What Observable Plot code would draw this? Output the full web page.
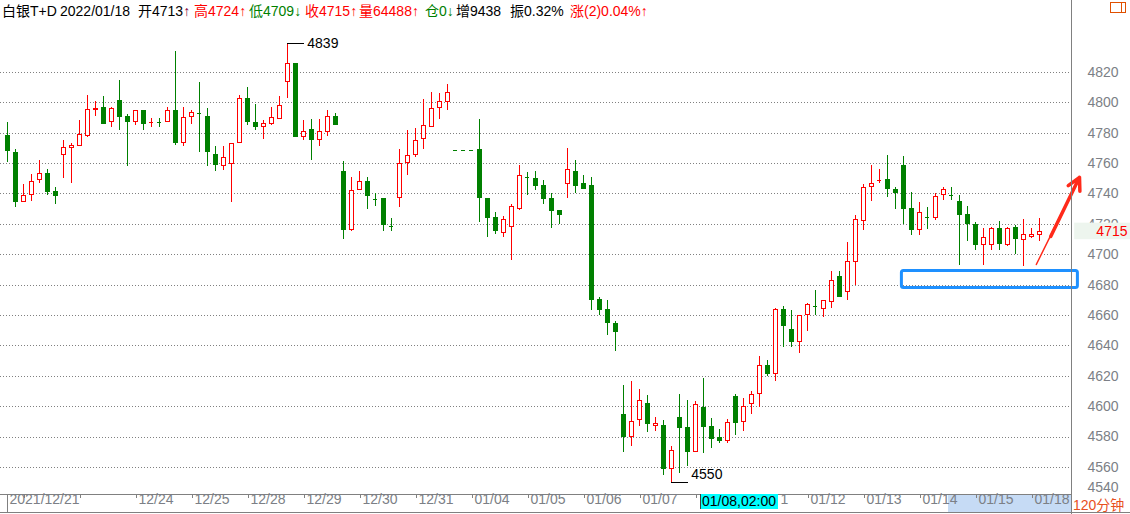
<!DOCTYPE html>
<html>
<head>
<meta charset="utf-8">
<script src="https://cdn.jsdelivr.net/npm/d3@7"></script>
<script src="https://cdn.jsdelivr.net/npm/@observablehq/plot@0.6"></script>
<style>
  body { margin: 0; background: #fff; }
  #wrap { position: relative; width: 1130px; height: 514px; overflow: hidden;
          font-family: "Liberation Sans", Arial, "Noto Sans CJK SC", sans-serif; }
  #chart { position: absolute; left: 0; top: 0; }
  .h { position: absolute; top: 3px; font-size: 14px; line-height: 16px; white-space: pre; }
  .blk { color: #000; } .red { color: #ff0000; } .grn { color: #008000; } .mar { color: #800040; }
  #cursor { position: absolute; left: 700px; top: 494px; height: 15px; background: #00ffff;
            border-left: 1px solid #404040; font-size: 14px; line-height: 15px; color: #000; padding-left: 1px; box-sizing: border-box; width: 78px; }
  #period { position: absolute; left: 1073px; top: 497px; font-size: 14px; line-height: 16px; color: #e8501e; }
  #icon { position: absolute; left: 1110px; top: 2px; width: 14px; height: 9px; border: 1px solid #e05000; }
  #icon:after { content: ""; position: absolute; left: 10px; top: 0; width: 1px; height: 9px; background: #e05000; }
</style>
</head>
<body>
<div id="wrap">
  <div id="chart"></div>
  <div class="h blk" style="left:2px">白银T+D</div>
  <div class="h blk" style="left:60px">2022/01/18</div>
  <div class="h" style="left:138px"><span class="blk">开4713</span><span class="mar">↑</span></div>
  <div class="h red" style="left:194px">高4724↑</div>
  <div class="h grn" style="left:249px">低4709↓</div>
  <div class="h red" style="left:305px">收4715↑</div>
  <div class="h red" style="left:359px">量64488↑</div>
  <div class="h grn" style="left:425px">仓0↓</div>
  <div class="h blk" style="left:456px">增9438</div>
  <div class="h blk" style="left:510px">振0.32%</div>
  <div class="h red" style="left:570px">涨(2)0.04%↑</div>
  <div id="cursor">01/08,02:00</div>
  <div id="period">120分钟</div>
  <div id="icon"></div>
</div>
<script>
// ---- data (120-minute candles, index 0 = first bar) ----
const opens = [
  4778, 4767, 4735, 4739.4, 4749, 4753, 4741, 4766, 4770.4, 4771.5,
  4778, 4795, 4796.4, 4787.4, 4801, 4791, 4787.4, 4794.4, 4787, 4787,
  4787.4, 4794.4, 4773.5, 4790.7, 4793, 4791, 4766, 4758.3, 4760, 4773.5,
  4802.4, 4787, 4784, 4786, 4789.4, 4814, 4825.5, 4777.5, 4782, 4775.7,
  4780.6, 4791, 4754.8, 4716.4, 4742.8, 4748, 4736.4, 4736.4, 4719, 4737.5,
  4760.5, 4765.8, 4776.3, 4784.2, 4796.7, 4800.7, 4769, 4769, 4769, 4769,
  4737, 4724, 4714.5, 4718, 4730, 4750.7, 4750.2, 4745, 4737, 4729,
  4746.5, 4754.8, 4746.3, 4745, 4670, 4663.5, 4654.3, 4594.4, 4579.7, 4590.9,
  4602, 4587.2, 4587.2, 4558.7, 4592.5, 4586.2, 4570.3, 4599, 4586.6, 4579.3,
  4577.5, 4606.3, 4589.6, 4601.4, 4608, 4627, 4621.8, 4663.3, 4650.3, 4642.7,
  4660, 4666, 4664.6, 4668.8, 4685.4, 4675.6, 4695.3, 4722.3, 4744.6, 4748.8,
  4749, 4742.9, 4758.2, 4730, 4716.6, 4724.7, 4724.3, 4739.6, 4739.2, 4734.6,
  4726, 4719.4, 4706.5, 4706.5, 4717.2, 4706.5, 4717.9, 4710, 4711.8, 4713
];
const highs = [
  4787, 4769, 4746, 4753, 4762, 4756, 4744.5, 4775, 4773, 4788.5,
  4805, 4801, 4804, 4797, 4815, 4792.5, 4795, 4795, 4790, 4790,
  4797, 4834, 4797, 4795, 4813.4, 4796, 4771.3, 4771, 4773.5, 4805,
  4810, 4799, 4788.5, 4797, 4804.4, 4839, 4826, 4788.5, 4789, 4789,
  4795, 4793, 4761.4, 4751, 4754.8, 4751, 4740, 4736.4, 4723.9, 4769.3,
  4781.8, 4783, 4802, 4806.6, 4806, 4812, 4769, 4769, 4769, 4789,
  4737, 4727.8, 4725, 4733, 4758.8, 4754, 4754.8, 4749, 4740, 4729,
  4769.7, 4762, 4752, 4751, 4671.6, 4670, 4656, 4614.2, 4616.4, 4611.5,
  4607.6, 4592.7, 4591, 4574, 4608.2, 4604.3, 4603.2, 4618.3, 4592.3, 4585,
  4591.2, 4608, 4605.5, 4610, 4633.2, 4630.6, 4664.4, 4666, 4663.3, 4660,
  4668, 4676.3, 4669.4, 4689.2, 4688.7, 4708.2, 4725.8, 4746, 4758.9, 4756.3,
  4765.5, 4744.6, 4764.4, 4741, 4734.6, 4731.3, 4740.3, 4744.4, 4744.4, 4739.2,
  4732, 4721.4, 4717.2, 4717.9, 4722, 4717.9, 4719.4, 4723.4, 4717.2, 4724
];
const lows = [
  4761, 4731, 4734.5, 4735, 4747, 4739, 4733, 4750, 4747, 4771,
  4777.5, 4791, 4786, 4784, 4781.5, 4758, 4785, 4782, 4783.5, 4784,
  4787, 4772, 4771, 4786, 4767.6, 4758, 4755, 4755.5, 4734.5, 4773,
  4785, 4782, 4776, 4785, 4789, 4803, 4777, 4775.3, 4762, 4771.5,
  4778, 4785, 4710.3, 4715.6, 4742.8, 4730, 4732, 4715.6, 4715.6, 4731,
  4752.4, 4764, 4769.5, 4784, 4789, 4795, 4769, 4769, 4769, 4721.5,
  4711.6, 4713.6, 4711.6, 4696.3, 4729, 4739, 4742.3, 4733, 4717.5, 4720,
  4737, 4740, 4743, 4663.5, 4659.8, 4646.6, 4636.5, 4570, 4574, 4586.8,
  4582.8, 4583.5, 4554.5, 4550, 4556, 4560.3, 4570, 4569.4, 4572.4, 4575.8,
  4575.4, 4581.3, 4583.5, 4595, 4599.3, 4620, 4616.4, 4638.7, 4639, 4635.2,
  4649.3, 4659.8, 4658.5, 4664.4, 4671.6, 4669.6, 4679.7, 4716, 4735.2, 4746.8,
  4737.4, 4730, 4719.6, 4712.4, 4712.4, 4716.6, 4722.3, 4735.4, 4735.4, 4693.1,
  4708.5, 4702.5, 4693.1, 4702.5, 4703, 4705.2, 4700.1, 4692.5, 4710.4, 4709
];
const closes = [
  4768, 4735, 4739, 4748, 4753, 4741, 4738.5, 4770, 4771.3, 4779,
  4795, 4796, 4786, 4796, 4791, 4787.4, 4794.4, 4786, 4787.1, 4786.9,
  4794.4, 4773.5, 4790, 4793, 4792.9, 4767.6, 4758.8, 4764, 4773, 4802.4,
  4787.4, 4784, 4786, 4790.3, 4798, 4825.5, 4777.5, 4781, 4775.7, 4781,
  4791, 4785.4, 4716.4, 4742, 4748, 4738.6, 4736.3, 4719.5, 4718.9, 4760,
  4765, 4775, 4784.9, 4796, 4800.7, 4806.6, 4768.9, 4768.9, 4768.9, 4737.3,
  4724, 4715.6, 4723, 4731.6, 4752, 4750.6, 4745, 4736.6, 4729, 4726,
  4756, 4745, 4743, 4670, 4663.5, 4655.2, 4649.3, 4579.7, 4590, 4603.4,
  4588.7, 4588.5, 4558.7, 4570.6, 4585.8, 4570.3, 4600.8, 4586.8, 4578.9, 4577.5,
  4589, 4589.4, 4600, 4607.4, 4627, 4621.8, 4663.3, 4653.2, 4642.7, 4659.8,
  4667.2, 4665.9, 4669.4, 4683, 4672.3, 4694.9, 4723.2, 4744.2, 4746.8, 4748.9,
  4743.1, 4740.7, 4730, 4716.1, 4727.8, 4724.6, 4738.3, 4742.5, 4739.1, 4726.2,
  4720.5, 4706.5, 4711.3, 4717.2, 4707.1, 4717.2, 4710.4, 4713.3, 4713.3, 4715
];
// x-axis: bar index where each trading day starts, and its visible label ("" = tick only;
// 01/08 and most of 01/11 are hidden under the cursor box in the reference)
const dayStarts = [2, 9, 16, 23, 30, 37, 44, 51, 58, 65, 72, 79, 86, 93, 100, 107, 114, 121, 128];
const dayLabels = ["", "", "12/24", "12/25", "12/28", "12/29", "12/30", "12/31", "01/04", "01/05",
                   "01/06", "01/07", "", "", "01/12", "01/13", "01/14", "01/15", "01/18"];
const partialLabel = {i: 93, text: "1"};   // visible tail of "01/11"
const firstLabel = "2021/12/21";
const priceTicks = [4560, 4580, 4600, 4620, 4640, 4660, 4680, 4700, 4720, 4740, 4760, 4780, 4800, 4820];
const bottomTick = 4540;

// ---- layout ----
const RED = "#ff0000", GREEN = "#008000", GRAY = "#808080", AXC = "#7c7f86";
const Y_TOP = 4867.4, Y_BOT = 4542.8, PLOT_H = 493;
const yVal = px => Y_TOP - px * (Y_TOP - Y_BOT) / PLOT_H;   // pixel row -> price (for chrome outside frame)

const bars = opens.map((o, i) => ({i, o, h: highs[i], l: lows[i], c: closes[i]}));
const isUp = d => d.c > d.o;
const col = d => isUp(d) ? RED : GREEN;
const flat = bars.filter(d => Math.abs(d.c - d.o) < 0.5);
const hiBar = bars.reduce((a, b) => b.h > a.h ? b : a);
const loBar = bars.reduce((a, b) => b.l < a.l ? b : a);
const last = bars[bars.length - 1];
const ticks = dayStarts.map((i, k) => ({i, label: dayLabels[k]}));
const crisp = {shapeRendering: "crispEdges"};

const chart = Plot.plot({
  width: 1130, height: 514,
  marginLeft: 0, marginRight: 59, marginTop: 0, marginBottom: 21,
  x: {type: "linear", domain: [-0.875, 133], axis: null},
  y: {type: "linear", domain: [Y_BOT, Y_TOP], axis: null},
  style: {fontFamily: "'Liberation Sans', Arial, sans-serif", fontSize: "14px", background: "transparent", overflow: "visible"},
  marks: [
    // selection highlight in the time strip
    Plot.rect([0], {x1: 117.6, x2: 133, y1: yVal(494), y2: yVal(512.5), fill: "#c6dbf5", ...crisp}),
    // dotted price grid
    Plot.ruleY(priceTicks, {stroke: GRAY, strokeDasharray: "1,2", ...crisp}),
    // candles
    Plot.ruleX(bars, {x: "i", y1: "l", y2: "h", stroke: col, ...crisp}),
    Plot.rect(bars.filter(d => Math.abs(d.c - d.o) >= 0.5),
      {x1: d => d.i - 0.25, x2: d => d.i + 0.25, y1: "o", y2: "c",
       fill: d => isUp(d) ? "white" : GREEN, stroke: col, ...crisp}),
    Plot.ruleY(flat, {y: "c", x1: d => d.i - 0.3, x2: d => d.i + 0.3, stroke: col, ...crisp}),
    // max / min markers
    Plot.ruleY([hiBar], {y: "h", x1: "i", x2: d => d.i + 2.1, stroke: "black", ...crisp}),
    Plot.text([hiBar], {x: d => d.i + 2.1, y: "h", text: d => String(d.h), textAnchor: "start", dx: 3, fill: "black"}),
    Plot.ruleY([loBar], {y: "l", x1: "i", x2: d => d.i + 2.1, stroke: "black", ...crisp}),
    Plot.text([loBar], {x: d => d.i + 2.1, y: "l", text: d => String(d.l), textAnchor: "start", dx: 3, dy: -8, fill: "black"}),
    // hand-drawn annotations
    Plot.rect([0], {x1: 111.8, x2: 133.8, y1: 4689.3, y2: 4678.1, stroke: "#1e90ff", strokeWidth: 3, fill: "none", rx: 2}),
    Plot.arrow([0], {x1: 128.6, y1: 4693.6, x2: 134, y2: 4751, stroke: "#ff2a1a", strokeWidth: 1.5, headLength: 0}),
    Plot.arrow([0], {x1: 130.4, y1: 4712, x2: 134, y2: 4751, stroke: "#ff2a1a", strokeWidth: 3.5, headLength: 6, headAngle: 55}),
    // right price axis
    Plot.ruleX([133], {y1: yVal(0), y2: yVal(514), stroke: GRAY, ...crisp}),
    Plot.text(priceTicks, {y: d => d, text: d => String(d), frameAnchor: "right", textAnchor: "start", dx: 16, fill: AXC}),
    Plot.text([bottomTick], {y: d => d, text: d => String(d), frameAnchor: "right", textAnchor: "start", dx: 16, dy: -10, fill: AXC}),
    // last price tag
    Plot.rect([last], {x1: 133.4, x2: 141, y1: 4720.8, y2: 4709.9, fill: "#edf5ee"}),
    Plot.text([last], {y: "c", text: d => String(d.c), frameAnchor: "right", textAnchor: "end", dx: 56, fill: RED}),
    // time strip
    Plot.ruleY([0], {y: () => yVal(494), x1: -0.875, x2: 133, stroke: GRAY, ...crisp}),
    Plot.ruleY([0], {y: () => yVal(512), x1: -0.875, x2: 141, stroke: GRAY, ...crisp}),
    Plot.ruleX([0], {x: 0, y1: yVal(494), y2: yVal(512), stroke: GRAY, ...crisp}),
    Plot.ruleX(ticks, {x: d => d.i + 0.125, y1: yVal(494), y2: yVal(498), stroke: GRAY, ...crisp}),
    Plot.text([firstLabel], {x: 0, text: d => d, frameAnchor: "bottom", dy: 10, dx: 2, textAnchor: "start", fill: AXC}),
    Plot.text(ticks.filter(d => d.label), {x: d => d.i + 0.125, text: "label", frameAnchor: "bottom", dy: 10, dx: 2, textAnchor: "start", fill: AXC}),
    Plot.text([partialLabel], {x: d => d.i + 0.125, text: "text", frameAnchor: "bottom", dy: 10, dx: 28, textAnchor: "start", fill: AXC})
  ]
});
document.getElementById("chart").appendChild(chart);
</script>
</body>
</html>
